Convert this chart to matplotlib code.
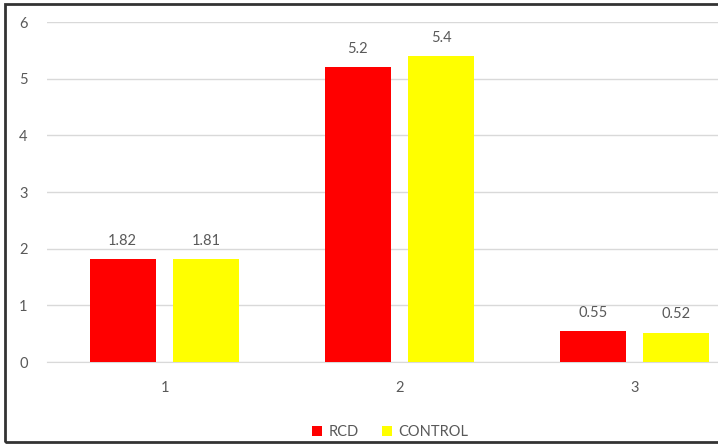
import matplotlib
matplotlib.use('Agg')
import matplotlib.pyplot as plt
from matplotlib.patches import Rectangle
import numpy as np

categories = ['1', '2', '3']
rcd = [1.82, 5.2, 0.55]
control = [1.81, 5.4, 0.52]
rcd_labels = ['1.82', '5.2', '0.55']
control_labels = ['1.81', '5.4', '0.52']

plt.rcParams['font.family'] = ['Lato', 'DejaVu Sans']
text_color = '#595959'

fig = plt.figure(figsize=(7.18, 4.45), dpi=100)
ax = fig.add_axes([47 / 718, 1 - 362 / 445, 705 / 718, 340 / 445])

x = np.arange(len(categories))
w = 0.28
off = 0.178
b1 = ax.bar(x - off, rcd, w, color='#ff0000', label='RCD', zorder=3)
b2 = ax.bar(x + off, control, w, color='#ffff00', label='CONTROL', zorder=3)

for bars, labels in ((b1, rcd_labels), (b2, control_labels)):
    for bar, lab in zip(bars, labels):
        ax.annotate(lab, (bar.get_x() + bar.get_width() / 2, bar.get_height()),
                    xytext=(0, 8), textcoords='offset points', ha='center', va='bottom',
                    fontsize=10.5, color=text_color)

ax.set_xlim(-0.5, 2.5)
ax.set_ylim(0, 6)
ax.set_yticks(range(7))
ax.set_xticks(x)
ax.set_xticklabels(categories)
ax.tick_params(length=0, labelsize=10.5, colors=text_color)
ax.tick_params(axis='y', pad=14)
ax.tick_params(axis='x', pad=14)
ax.grid(axis='y', color='#d9d9d9', linewidth=1, zorder=0)
for s in ('top', 'right', 'left'):
    ax.spines[s].set_visible(False)
ax.spines['bottom'].set_color('#d9d9d9')

fig.legend(loc='center', bbox_to_anchor=(390 / 718, 1 - 432 / 445), ncol=2, frameon=False,
           fontsize=10.5, labelcolor=text_color, handlelength=0.7, handleheight=0.7,
           handletextpad=0.4, columnspacing=1.6)

fig.patches.append(Rectangle((5 / 718, 3 / 445), 2, 1 - 7 / 445, transform=fig.transFigure,
                             fill=False, edgecolor='#333333', linewidth=2))

fig.savefig('out.png', dpi=100)
